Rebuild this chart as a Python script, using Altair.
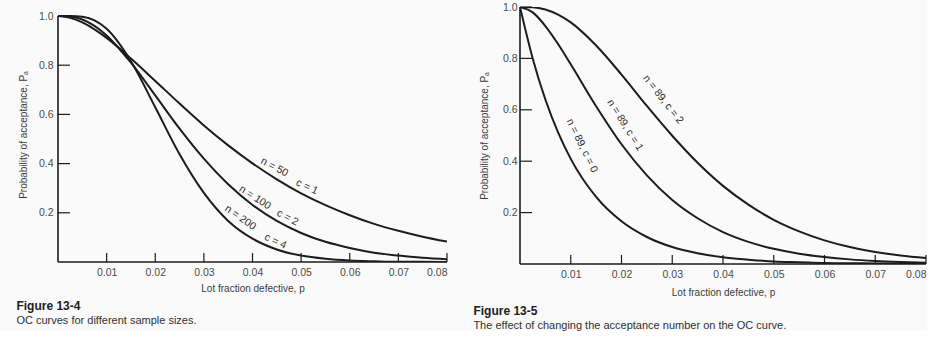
import altair as alt
import pandas as pd

# ---- data ----
P = [0.0, 0.0025, 0.005, 0.0075, 0.01, 0.015, 0.02, 0.025, 0.03, 0.035,
     0.04, 0.045, 0.05, 0.055, 0.06, 0.065, 0.07, 0.075, 0.08]

N50_C1 = [1.0, 0.993, 0.974, 0.946, 0.911, 0.827, 0.736, 0.644, 0.555, 0.474,
          0.401, 0.336, 0.279, 0.231, 0.190, 0.155, 0.127, 0.103, 0.083]
N100_C2 = [1.0, 0.998, 0.986, 0.960, 0.921, 0.810, 0.677, 0.542, 0.420, 0.316,
           0.232, 0.167, 0.118, 0.082, 0.057, 0.038, 0.026, 0.017, 0.011]
N200_C4 = [1.0, 1.0, 0.997, 0.982, 0.948, 0.816, 0.629, 0.438, 0.281, 0.167,
           0.095, 0.051, 0.026, 0.013, 0.006, 0.003, 0.001, 0.001, 0.0]

N89_C0 = [1.0, 0.800, 0.640, 0.512, 0.409, 0.261, 0.166, 0.105, 0.066, 0.042,
          0.026, 0.017, 0.010, 0.007, 0.004, 0.003, 0.002, 0.001, 0.001]
N89_C1 = [1.0, 0.979, 0.926, 0.856, 0.777, 0.614, 0.466, 0.345, 0.249, 0.178,
          0.124, 0.086, 0.059, 0.040, 0.027, 0.018, 0.012, 0.008, 0.005]
N89_C2 = [1.0, 0.999, 0.990, 0.970, 0.940, 0.850, 0.737, 0.615, 0.499, 0.394,
          0.304, 0.231, 0.172, 0.127, 0.092, 0.066, 0.047, 0.033, 0.023]

X_TICKS = [0.01, 0.02, 0.03, 0.04, 0.05, 0.06, 0.07, 0.08]
Y_TICKS = [0.2, 0.4, 0.6, 0.8, 1.0]

LEFT_LABELS = ["n = 50", "c = 1", "n = 100", "c = 2", "n = 200", "c = 4"]
LEFT_LABEL_P = [0.0445, 0.0512, 0.0405, 0.0472, 0.0375, 0.0447]
LEFT_LABEL_PA = [0.385, 0.305, 0.262, 0.180, 0.180, 0.084]
LEFT_LABEL_ANGLE = [28, 25, 33, 28, 35, 25]

RIGHT_LABELS = ["n = 89, c = 2", "n = 89, c = 1", "n = 89, c = 0"]
RIGHT_LABEL_P = [0.0282, 0.0207, 0.0122]
RIGHT_LABEL_PA = [0.64, 0.54, 0.46]
RIGHT_LABEL_ANGLE = [52, 58, 64]

FONT = "Liberation Sans"
INK = "#1c1c1c"


def long_df(series):
    rows = []
    for name, vals in series.items():
        for p, v in zip(P, vals):
            rows.append({"p": p, "Pa": v, "curve": name})
    return pd.DataFrame(rows)


def panel(series, labels, lp, lpa, lang, width, height, ymax,
          lab_pad, title_pad, x_lab_pad, x_title_pad, cap, sub, cap_dx, cap_off):
    xs = alt.Scale(domain=[0, 0.08], nice=False, zero=False)
    ys = alt.Scale(domain=[0, ymax], nice=False, zero=False)
    xaxis = alt.Axis(values=X_TICKS, format=".2f", ticks=False, domain=False, grid=False,
                     title="Lot fraction defective, p", labelFont=FONT, labelFontSize=10.5,
                     labelColor="#4a4a4a", titleFont=FONT, titleFontSize=10,
                     titleFontWeight="normal", titleColor="#3a3a3a",
                     labelPadding=x_lab_pad, titlePadding=x_title_pad)
    yaxis = alt.Axis(values=Y_TICKS, format=".1f", ticks=False, domain=False, grid=False,
                     title="Probability of acceptance, Pₐ", labelFont=FONT, labelFontSize=10.5,
                     labelColor="#4a4a4a", titleFont=FONT, titleFontSize=10,
                     titleFontWeight="normal", titleColor="#3a3a3a",
                     labelPadding=lab_pad, titlePadding=title_pad)

    df = long_df(series)
    lines = alt.Chart(df).mark_line(interpolate="monotone", color=INK, strokeWidth=2,
                                    clip=True).encode(
        x=alt.X("p:Q", scale=xs, axis=xaxis),
        y=alt.Y("Pa:Q", scale=ys, axis=yaxis),
        detail="curve:N",
    )

    axis_df = pd.DataFrame({"p0": [0.0], "p1": [0.08], "y0": [0.0], "y1": [1.0]})
    x_line = alt.Chart(axis_df).mark_rule(color=INK, strokeWidth=1.6).encode(
        x=alt.X("p0:Q", scale=xs), x2="p1:Q", y=alt.Y("y0:Q", scale=ys))
    y_line = alt.Chart(axis_df).mark_rule(color=INK, strokeWidth=1.6).encode(
        x=alt.X("p0:Q", scale=xs), y=alt.Y("y0:Q", scale=ys), y2="y1:Q")

    xt = alt.Chart(pd.DataFrame({"p": X_TICKS})).mark_rule(color=INK, strokeWidth=1.2).encode(
        x=alt.X("p:Q", scale=xs), y=alt.value(height), y2=alt.value(height - 9))
    yt = alt.Chart(pd.DataFrame({"Pa": Y_TICKS})).mark_rule(color=INK, strokeWidth=1.2).encode(
        y=alt.Y("Pa:Q", scale=ys), x=alt.value(0), x2=alt.value(12))

    ldf = pd.DataFrame({"label": labels, "p": lp, "Pa": lpa, "angle": lang})
    text = alt.Chart(ldf).mark_text(font=FONT, fontSize=10.5, color="#2e2e2e").encode(
        x=alt.X("p:Q", scale=xs), y=alt.Y("Pa:Q", scale=ys), text="label:N",
        angle=alt.Angle("angle:Q", scale=None))

    return alt.layer(lines, x_line, y_line, xt, yt, text).properties(
        width=width, height=height,
        title=alt.TitleParams(text=cap, subtitle=sub, orient="bottom", anchor="start",
                              frame="bounds", font=FONT, fontSize=12, fontWeight="bold",
                              color="#202020", subtitleFont=FONT, subtitleFontSize=11,
                              subtitleColor="#303030", subtitlePadding=2,
                              offset=cap_off, dx=cap_dx))


left = panel({"n50": N50_C1, "n100": N100_C2, "n200": N200_C4},
             LEFT_LABELS, LEFT_LABEL_P, LEFT_LABEL_PA, LEFT_LABEL_ANGLE,
             width=389, height=255, ymax=255 / 246,
             lab_pad=5, title_pad=10, x_lab_pad=5, x_title_pad=6,
             cap="Figure 13-4", sub="OC curves for different sample sizes.",
             cap_dx=-2, cap_off=7)

right = panel({"c0": N89_C0, "c1": N89_C1, "c2": N89_C2},
              RIGHT_LABELS, RIGHT_LABEL_P, RIGHT_LABEL_PA, RIGHT_LABEL_ANGLE,
              width=406, height=257, ymax=1.0,
              lab_pad=3, title_pad=13, x_lab_pad=5, x_title_pad=8,
              cap="Figure 13-5", sub="The effect of changing the acceptance number on the OC curve.",
              cap_dx=-6, cap_off=8)

chart = alt.hconcat(left, right, spacing=25).properties(
    background="#fafafa",
    padding={"left": 16, "top": 2, "right": 0, "bottom": 0},
).configure_view(stroke=None)

chart.save("out.html", embed_options={"renderer": "svg", "actions": False})
